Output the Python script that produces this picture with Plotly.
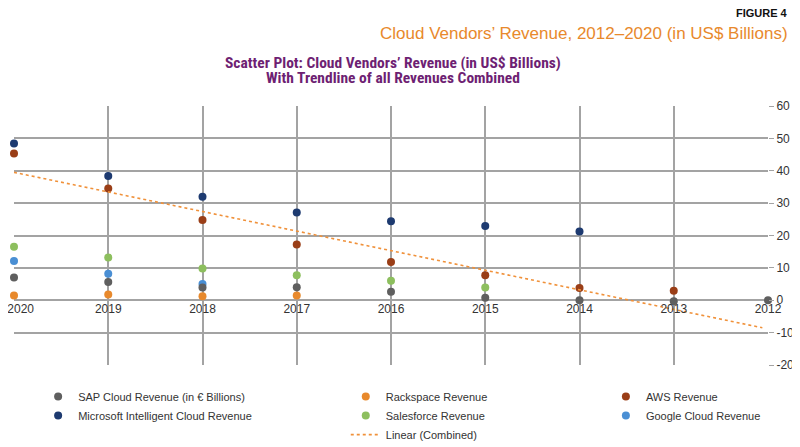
import plotly.graph_objects as go

years = [2020, 2019, 2018, 2017, 2016, 2015, 2014, 2013, 2012]
year_labels = ["\u2007\u20072020", "2019", "2018", "2017", "2016", "2015", "2014", "2013", "2012"]

aws = [45.3, 34.5, 24.8, 17.2, 11.8, 7.7, 3.8, 2.9, None]
google = [12.1, 8.2, 5.0, None, None, None, None, None, None]
salesforce = [16.5, 13.2, 9.8, 7.7, 6.0, 3.9, None, None, None]
sap = [7.0, 5.6, 3.9, 4.0, 2.6, 0.8, 0.0, -0.3, 0.0]
rackspace = [1.5, 1.8, 1.2, 1.5, None, None, None, None, None]
microsoft = [48.4, 38.4, 32.0, 27.1, 24.4, 22.9, 21.2, None, None]

trend_x = [2020.0, 2012.06]
trend_y = [39.5, -8.5]

y_ticks = [60, 50, 40, 30, 20, 10, 0, -10, -20]
y_tick_labels = ["60", "50", "40", "30", "20", "10", "0", "-10", "-20"]

C_AWS = "#9a3e17"
C_GOOGLE = "#4a8fd4"
C_SALES = "#8dbf5e"
C_SAP = "#5f5f5f"
C_RACK = "#e8892c"
C_MS = "#1d3a70"
C_TREND = "#f0913a"

FONT = "Liberation Sans, Arial, sans-serif"
NARROW = "Liberation Sans Narrow, Arial Narrow, Roboto Condensed, Liberation Sans, sans-serif"

fig = go.Figure()

def add(name, vals, color, legend):
    fig.add_trace(go.Scatter(
        x=years, y=vals, mode="markers", name=name,
        marker=dict(color=color, size=8, line=dict(width=0)),
        cliponaxis=False, legend=legend,
    ))

# draw order (SAP drawn over Google)
add("AWS Revenue", aws, C_AWS, "legend3")
add("Google Cloud Revenue", google, C_GOOGLE, "legend3")
add("Rackspace Revenue", rackspace, C_RACK, "legend2")
add("Salesforce Revenue", salesforce, C_SALES, "legend2")
add("SAP Cloud Revenue (in € Billions)", sap, C_SAP, "legend")
add("Microsoft Intelligent Cloud Revenue", microsoft, C_MS, "legend")

fig.add_trace(go.Scatter(
    x=trend_x, y=trend_y, mode="lines", name="Linear (Combined)",
    line=dict(color=C_TREND, width=1.6, dash="dot"), legend="legend2",
))

legend_common = dict(
    orientation="v", yanchor="top", xanchor="left",
    font=dict(family=FONT, size=11, color="#333333"),
    bgcolor="rgba(0,0,0,0)", tracegroupgap=0, itemsizing="trace",
    traceorder="normal",
)

# the page body adds an 8px offset, so the figure is 8px smaller
fig.update_layout(
    width=792, height=439,
    margin=dict(l=6, r=32, t=98, b=82, autoexpand=False),
    paper_bgcolor="white", plot_bgcolor="white",
    showlegend=True,
    legend=dict(x=0.032, y=-0.066, **legend_common),
    legend2=dict(x=0.44, y=-0.066, **legend_common),
    legend3=dict(x=0.785, y=-0.066, **legend_common),
    xaxis=dict(
        range=[2020, 2012], tickmode="array", tickvals=years,
        ticktext=year_labels, ticklabeloverflow="allow",
        showgrid=True, gridcolor="#a3a3a3", gridwidth=1.5,
        zeroline=False, showline=False, ticks="",
        anchor="free", position=0.25,
        tickfont=dict(family=FONT, size=12, color="#333333"),
    ),
    yaxis=dict(
        range=[-20, 60], tickmode="array", tickvals=y_ticks,
        ticktext=y_tick_labels, ticklabeloverflow="allow",
        side="right", showgrid=True, gridcolor="#a3a3a3", gridwidth=1.5,
        zeroline=True, zerolinecolor="#a3a3a3", zerolinewidth=1.5,
        showline=False, ticks="outside", ticklen=5, tickcolor="#a3a3a3",
        tickfont=dict(family=FONT, size=12, color="#333333"),
    ),
    annotations=[
        dict(text="<b>FIGURE 4</b>", xref="paper", yref="paper",
             x=1.0292, y=1.0, xanchor="right", yanchor="bottom",
             yshift=85, showarrow=False,
             font=dict(family=FONT, size=11, color="#111111")),
        dict(text="Cloud Vendors\u2019 Revenue, 2012\u20132020 (in US$ Billions)",
             xref="paper", yref="paper", x=1.0292, y=1.0,
             xanchor="right", yanchor="bottom", yshift=61, showarrow=False,
             font=dict(family=FONT, size=17, color=C_RACK)),
        dict(text="<b>Scatter Plot: Cloud Vendors\u2019 Revenue (in US$ Billions)</b>",
             xref="paper", yref="paper", x=0.503, y=1.0,
             xanchor="center", yanchor="middle", yshift=43, showarrow=False,
             font=dict(family=NARROW, size=15.5, color="#6e1f73")),
        dict(text="<b>With Trendline of all Revenues Combined</b>",
             xref="paper", yref="paper", x=0.503, y=1.0,
             xanchor="center", yanchor="middle", yshift=28, showarrow=False,
             font=dict(family=NARROW, size=15.5, color="#6e1f73")),
    ],
)

fig.write_html("out.html")
